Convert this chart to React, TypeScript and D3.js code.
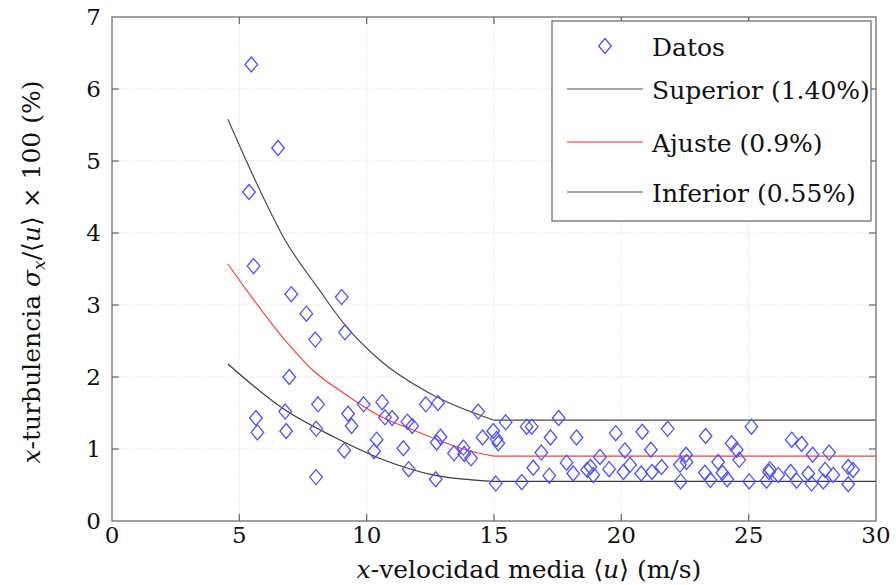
import React from "react";
import * as d3 from "d3";

const xData = [5.47,6.52,5.38,5.56,7.04,9.02,7.63,7.98,9.15,6.96,5.65,5.71,6.80,6.84,8.09,8.02,8.01,9.27,9.41,9.12,9.88,10.61,10.72,11.00,10.39,10.29,11.44,11.60,11.79,11.65,12.32,12.80,12.90,12.75,12.71,13.43,13.80,13.83,14.10,14.38,14.55,14.97,15.10,15.17,15.07,15.46,16.28,16.48,17.54,17.22,18.24,19.78,16.86,16.54,16.09,17.17,17.85,18.11,19.16,18.79,18.66,18.90,19.52,20.08,20.14,20.34,20.78,20.82,21.16,21.20,21.58,21.82,22.30,22.33,22.54,22.56,23.31,23.28,23.50,23.80,23.97,24.16,24.33,24.53,24.63,25.11,25.02,25.70,25.80,25.83,26.16,26.69,26.65,26.88,27.08,27.34,27.51,27.47,27.93,28.00,28.16,28.32,28.91,28.91,29.10];
const yData = [6.34,5.18,4.57,3.54,3.15,3.11,2.88,2.52,2.62,2.00,1.43,1.23,1.52,1.25,1.62,1.28,0.61,1.49,1.32,0.98,1.62,1.65,1.44,1.43,1.13,0.97,1.01,1.38,1.32,0.72,1.62,1.64,1.17,1.09,0.58,0.94,1.02,0.93,0.87,1.52,1.16,1.25,1.14,1.08,0.52,1.37,1.31,1.31,1.43,1.16,1.16,1.22,0.95,0.74,0.54,0.63,0.81,0.66,0.89,0.75,0.71,0.64,0.72,0.68,0.98,0.78,0.66,1.24,0.99,0.68,0.75,1.28,0.78,0.55,0.92,0.82,1.18,0.67,0.57,0.82,0.67,0.58,1.08,0.99,0.85,1.31,0.55,0.56,0.68,0.72,0.64,1.13,0.68,0.56,1.07,0.66,0.92,0.52,0.55,0.71,0.95,0.64,0.75,0.51,0.71];

const supX = [4.55, 5.8, 6.8, 8.1, 9.2, 10.5, 12.6, 15.0];
const supY = [5.58, 4.6, 3.9, 3.23, 2.7, 2.24, 1.75, 1.40];
const ajuX = [4.55, 6.8, 7.9, 9.2, 10.4, 12.0, 13.9, 15.0];
const ajuY = [3.57, 2.51, 2.09, 1.75, 1.48, 1.24, 0.99, 0.90];
const infX = [4.55, 6.8, 8.7, 10.65, 12.6, 15.0];
const infY = [2.18, 1.54, 1.17, 0.85, 0.64, 0.55];
const flatEnd = 30;

const xTicks = [0, 5, 10, 15, 20, 25, 30];
const yTicks = [0, 1, 2, 3, 4, 5, 6, 7];
const legendLabels = ["Datos", "Superior (1.40%)", "Ajuste (0.9%)", "Inferior (0.55%)"];

const FONT = "'DejaVu Serif', serif";
const tf: React.CSSProperties = { fontFamily: FONT };

export default function App() {
  const L = 112, R = 876, T = 17, B = 521;
  const x = d3.scaleLinear().domain([0, 30]).range([L, R]);
  const y = d3.scaleLinear().domain([0, 7]).range([B, T]);
  const curve = d3.line<[number, number]>().x(d => x(d[0])).y(d => y(d[1])).curve(d3.curveMonotoneX);
  const mk = (xs: number[], ys: number[]) => {
    const pts = xs.map((v, i) => [v, ys[i]] as [number, number]);
    const last = pts[pts.length - 1];
    return (curve(pts) || "") + `L${x(flatEnd)},${y(last[1])}`;
  };
  const diamond = (cx: number, cy: number) => `M${cx},${cy - 7.5}L${cx + 6.3},${cy}L${cx},${cy + 7.5}L${cx - 6.3},${cy}Z`;
  const blue = "#5050ff";
  const axisCol = "#6e6e6e";

  const legX = 552, legY = 21, legW = 319, legH = 200;
  const rowsY = [46, 89, 142, 192];

  return (
    <svg width={896} height={585} style={{ position: "absolute", left: 0, top: 0, background: "#fff" }}>
      <rect x={0} y={0} width={896} height={585} fill="#fff" />
      {xTicks.slice(1, -1).map(t => (
        <line key={"gx" + t} x1={x(t)} x2={x(t)} y1={T} y2={B} stroke="#d8d8d8" strokeWidth={0.8} strokeDasharray="1.5,1.5" />
      ))}
      {yTicks.slice(1, -1).map(t => (
        <line key={"gy" + t} x1={L} x2={R} y1={y(t)} y2={y(t)} stroke="#d8d8d8" strokeWidth={0.8} strokeDasharray="1.5,1.5" />
      ))}
      <path d={mk(supX, supY)} fill="none" stroke="#4a4a4a" strokeWidth={1.2} />
      <path d={mk(ajuX, ajuY)} fill="none" stroke="#ff3b3b" strokeWidth={1.2} />
      <path d={mk(infX, infY)} fill="none" stroke="#3a3a3a" strokeWidth={1.2} />
      {xData.map((v, i) => (
        <path key={"p" + i} d={diamond(x(v), y(yData[i]))} fill="none" stroke={blue} strokeWidth={1.3} />
      ))}
      <rect x={L} y={T} width={R - L} height={B - T} fill="none" stroke={axisCol} strokeWidth={1.3} />
      {xTicks.slice(1, -1).map(t => (
        <g key={"tx" + t}>
          <line x1={x(t)} x2={x(t)} y1={B} y2={B - 7} stroke={axisCol} strokeWidth={1.3} />
          <line x1={x(t)} x2={x(t)} y1={T} y2={T + 7} stroke={axisCol} strokeWidth={1.3} />
        </g>
      ))}
      {yTicks.slice(1, -1).map(t => (
        <g key={"ty" + t}>
          <line x1={L} x2={L + 7} y1={y(t)} y2={y(t)} stroke={axisCol} strokeWidth={1.3} />
          <line x1={R} x2={R - 7} y1={y(t)} y2={y(t)} stroke={axisCol} strokeWidth={1.3} />
        </g>
      ))}
      {xTicks.map(t => (
        <text key={"lx" + t} x={x(t)} y={543} fontSize={23} textAnchor="middle" fill="#111" style={tf}>{t}</text>
      ))}
      {yTicks.map(t => (
        <text key={"ly" + t} x={101} y={y(t) + 8} fontSize={23} textAnchor="end" fill="#111" style={tf}>{t}</text>
      ))}
      <text x={(L + R) / 2 + 35} y={578} fontSize={25} textAnchor="middle" fill="#111" style={tf}>
        <tspan fontStyle="italic">x</tspan>-velocidad media ⟨<tspan fontStyle="italic">u</tspan>⟩ (m/s)
      </text>
      <text transform={`translate(40,${(T + B) / 2 + 3}) rotate(-90)`} fontSize={25} textAnchor="middle" fill="#111" style={tf}>
        <tspan fontStyle="italic">x</tspan>-turbulencia <tspan fontStyle="italic">σ</tspan><tspan fontStyle="italic" fontSize={17} dy={5}>x</tspan><tspan dy={-5}>/⟨</tspan><tspan fontStyle="italic">u</tspan>⟩ × 100 (%)
      </text>
      <rect x={legX} y={legY} width={legW} height={legH} fill="#fff" stroke={axisCol} strokeWidth={1.3} />
      <path d={diamond(605, rowsY[0])} fill="none" stroke={blue} strokeWidth={1.3} />
      <line x1={567} x2={643} y1={rowsY[1]} y2={rowsY[1]} stroke="#4a4a4a" strokeWidth={1.2} />
      <line x1={567} x2={643} y1={rowsY[2]} y2={rowsY[2]} stroke="#ff6b6b" strokeWidth={1.5} />
      <line x1={567} x2={643} y1={rowsY[3]} y2={rowsY[3]} stroke="#4a4a4a" strokeWidth={1.2} />
      {legendLabels.map((s, i) => (
        <text key={"leg" + i} x={652} y={rowsY[i] + 10} fontSize={25} fill="#111" style={tf}>{s}</text>
      ))}
    </svg>
  );
}
